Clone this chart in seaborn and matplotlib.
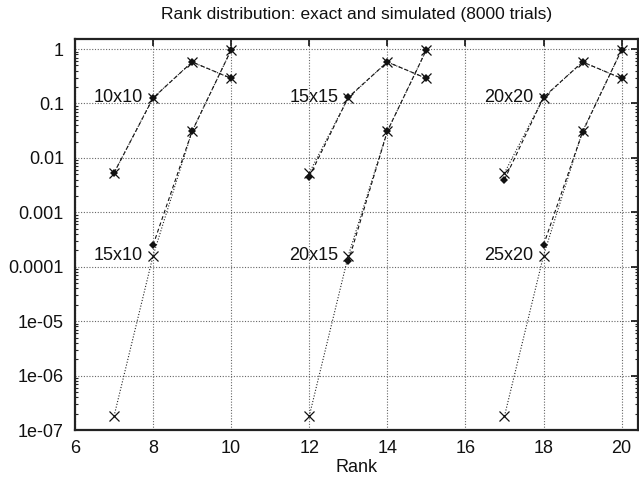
import numpy as np
import pandas as pd
import matplotlib
matplotlib.use("Agg")
import matplotlib.pyplot as plt
import matplotlib.ticker as mticker
import seaborn as sns

# ---- data ----
ranks_10x10 = [7, 8, 9, 10]
exact_10x10 = [0.0053, 0.128, 0.578, 0.289]
sim_10x10 = [0.0053, 0.126, 0.58, 0.29]

ranks_15x10 = [7, 8, 9, 10]
exact_15x10 = [1.8e-7, 1.6e-4, 0.031, 0.969]
sim_ranks_15x10 = [8, 9, 10]
sim_15x10 = [2.5e-4, 0.031, 0.969]

ranks_15x15 = [12, 13, 14, 15]
exact_15x15 = [0.0053, 0.128, 0.578, 0.289]
sim_15x15 = [0.0045, 0.13, 0.58, 0.29]

ranks_20x15 = [12, 13, 14, 15]
exact_20x15 = [1.8e-7, 1.6e-4, 0.031, 0.969]
sim_ranks_20x15 = [13, 14, 15]
sim_20x15 = [1.25e-4, 0.031, 0.969]

ranks_20x20 = [17, 18, 19, 20]
exact_20x20 = [0.0053, 0.128, 0.578, 0.289]
sim_20x20 = [0.004, 0.13, 0.58, 0.29]

ranks_25x20 = [17, 18, 19, 20]
exact_25x20 = [1.8e-7, 1.6e-4, 0.031, 0.969]
sim_ranks_25x20 = [18, 19, 20]
sim_25x20 = [2.5e-4, 0.03, 0.97]

labels = ["10x10", "15x10", "15x15", "20x15", "20x20", "25x20"]
label_x = [8, 8, 13, 13, 18, 18]
label_y = [0.128, 1.6e-4, 0.128, 1.6e-4, 0.128, 1.6e-4]

x_ticks = [6, 8, 10, 12, 14, 16, 18, 20]
y_ticks = [1e-7, 1e-6, 1e-5, 1e-4, 1e-3, 1e-2, 1e-1, 1]
y_tick_labels = ["1e-07", "1e-06", "1e-05", "0.0001", "0.001", "0.01", "0.1", "1"]

title = "Rank distribution: exact and simulated (8000 trials)"
xlabel = "Rank"

# ---- plot ----
sns.set_style("white")
plt.rcParams["font.family"] = ["Liberation Sans", "DejaVu Sans"]
FS = 13

fig = plt.figure(figsize=(6.39, 4.86), dpi=100)
ax = fig.add_axes([75 / 639, 1 - 430 / 486, (638 - 75) / 639, (430 - 39.5) / 486])

exact_sets = [
    (ranks_10x10, exact_10x10), (ranks_15x10, exact_15x10),
    (ranks_15x15, exact_15x15), (ranks_20x15, exact_20x15),
    (ranks_20x20, exact_20x20), (ranks_25x20, exact_25x20),
]
sim_sets = [
    (ranks_10x10, sim_10x10), (sim_ranks_15x10, sim_15x10),
    (ranks_15x15, sim_15x15), (sim_ranks_20x15, sim_20x15),
    (ranks_20x20, sim_20x20), (sim_ranks_25x20, sim_25x20),
]

for xs, ys in sim_sets:
    df = pd.DataFrame({"rank": xs, "p": ys})
    sns.lineplot(data=df, x="rank", y="p", ax=ax, color="#111111",
                 linewidth=0.8, linestyle=(0, (3.5, 2.5)), marker="D",
                 markersize=4.2, markeredgewidth=0, markerfacecolor="#111111",
                 estimator=None, sort=False)

for xs, ys in exact_sets:
    df = pd.DataFrame({"rank": xs, "p": ys})
    sns.lineplot(data=df, x="rank", y="p", ax=ax, color="#222222",
                 linewidth=0.8, linestyle=(0, (1, 1.6)), marker="x",
                 markersize=7.5, markeredgewidth=0.9, markeredgecolor="#111111",
                 estimator=None, sort=False)

for lab, lx, ly in zip(labels, label_x, label_y):
    ax.annotate(lab, xy=(lx, ly), xytext=(-10, 0), textcoords="offset pixels",
                ha="right", va="center", fontsize=FS, color="#111111")

ax.set_yscale("log")
ax.set_xlim(6, 20.42)
ax.set_ylim(1e-7, 1.5)
ax.set_xticks(x_ticks)
ax.set_xticklabels([str(t) for t in x_ticks])
ax.set_yticks(y_ticks)
ax.set_yticklabels(y_tick_labels)
ax.yaxis.set_minor_locator(mticker.LogLocator(base=10, subs=np.arange(2, 10), numticks=30))
ax.yaxis.set_minor_formatter(mticker.NullFormatter())

ax.grid(True, which="major", color="#666666", linestyle=(0, (1, 1.5)), linewidth=0.8)
ax.set_axisbelow(True)

ax.tick_params(axis="both", which="major", direction="in", length=5, width=1.2,
               top=True, right=True, labelsize=FS, colors="#111111")
ax.tick_params(axis="x", which="major", pad=7)
ax.tick_params(axis="y", which="major", pad=8)
ax.tick_params(axis="y", which="minor", direction="in", length=2.5, width=0.8,
               left=True, right=True)
for s in ax.spines.values():
    s.set_linewidth(1.6)
    s.set_color("#222222")

ax.set_xlabel("")
ax.set_ylabel("")
ax_cx = (75 + 638) / 2 / 639
fig.text(ax_cx, 1 - 468 / 486, xlabel, ha="center", va="center", fontsize=FS, color="#111111")
fig.text(ax_cx, 1 - 14 / 486, title, ha="center", va="center", fontsize=12.5, color="#111111")

fig.savefig("out.png", dpi=100)
